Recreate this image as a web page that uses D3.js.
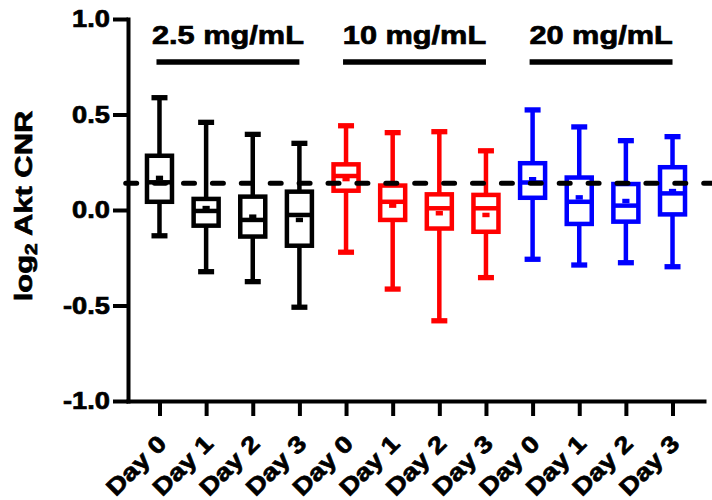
<!DOCTYPE html>
<html>
<head>
<meta charset="utf-8">
<script src="https://cdn.jsdelivr.net/npm/d3@7"></script>
<style>
  body { margin: 0; background: #fff; }
  svg text { font-family: "Liberation Sans", Arial, sans-serif; font-weight: bold; fill: #000; stroke: #000; stroke-width: 0.7px; }
</style>
</head>
<body>
<svg id="chart" width="712" height="500"></svg>
<script>
//*************** data ******************//

var categories = ["A0", "A1", "A2", "A3", "B0", "B1", "B2", "B3", "C0", "C1", "C2", "C3"];
var dayLabels = ["Day 0", "Day 1", "Day 2", "Day 3", "Day 0", "Day 1", "Day 2", "Day 3", "Day 0", "Day 1", "Day 2", "Day 3"];
var groupOf = [0, 0, 0, 0, 1, 1, 1, 1, 2, 2, 2, 2];

var groupNames = ["2.5 mg/mL", "10 mg/mL", "20 mg/mL"];
var groupColors = ["#000000", "#ff0000", "#0000ff"];

// box statistics, one value per category
var whiskerMax = [0.588, 0.459, 0.396, 0.349, 0.441, 0.405, 0.410, 0.310, 0.524, 0.435, 0.363, 0.384];
var q3 = [0.284, 0.058, 0.070, 0.096, 0.239, 0.128, 0.082, 0.079, 0.245, 0.170, 0.136, 0.224];
var medians = [0.145, -0.005, -0.052, -0.026, 0.178, 0.043, 0.009, 0.009, 0.144, 0.043, 0.023, 0.087];
var means = [0.168, 0.010, -0.035, -0.052, 0.162, 0.023, -0.017, -0.026, 0.161, 0.066, 0.047, 0.099];
var q1 = [0.043, -0.082, -0.139, -0.187, 0.101, -0.052, -0.097, -0.114, 0.064, -0.073, -0.061, -0.023];
var whiskerMin = [-0.135, -0.323, -0.375, -0.509, -0.221, -0.414, -0.580, -0.354, -0.258, -0.288, -0.276, -0.297];

var refLine = 0.14;
var yTicks = [-1.0, -0.5, 0.0, 0.5, 1.0];
var yLabel = "Akt CNR";

//*************** layout ******************//

var svg = d3.select("svg#chart");

var xScale = d3.scalePoint().domain(categories).range([128, 704]).padding(0.675);
var yScale = d3.scaleLinear().domain([-1, 1]).range([401, 19]);

var boxW = 25, capW = 16, lw = 4.5;

//--------------- boxes
var boxes = svg.append("g").attr("class", "boxes")
  .selectAll("g")
  .data(categories)
  .enter().append("g")
  .attr("transform", function(d) { return "translate(" + xScale(d) + ",0)"; });

function col(i) { return groupColors[groupOf[i]]; }

// whisker line
boxes.append("line")
  .attr("y1", function(d, i) { return yScale(whiskerMax[i]); })
  .attr("y2", function(d, i) { return yScale(whiskerMin[i]); })
  .attr("stroke", function(d, i) { return col(i); })
  .attr("stroke-width", lw);

// caps
[whiskerMax, whiskerMin].forEach(function(arr) {
  boxes.append("line")
    .attr("x1", -capW / 2).attr("x2", capW / 2)
    .attr("y1", function(d, i) { return yScale(arr[i]); })
    .attr("y2", function(d, i) { return yScale(arr[i]); })
    .attr("stroke", function(d, i) { return col(i); })
    .attr("stroke-width", lw + 0.8);
});

// box
boxes.append("rect")
  .attr("x", -boxW / 2)
  .attr("width", boxW)
  .attr("y", function(d, i) { return yScale(q3[i]); })
  .attr("height", function(d, i) { return yScale(q1[i]) - yScale(q3[i]); })
  .attr("fill", "#fff")
  .attr("stroke", function(d, i) { return col(i); })
  .attr("stroke-width", lw);

// median
boxes.append("line")
  .attr("x1", -boxW / 2).attr("x2", boxW / 2)
  .attr("y1", function(d, i) { return yScale(medians[i]); })
  .attr("y2", function(d, i) { return yScale(medians[i]); })
  .attr("stroke", function(d, i) { return col(i); })
  .attr("stroke-width", lw);

// mean marker
boxes.append("line")
  .attr("x1", -3.6).attr("x2", 3.6)
  .attr("y1", function(d, i) { return yScale(means[i]); })
  .attr("y2", function(d, i) { return yScale(means[i]); })
  .attr("stroke", function(d, i) { return col(i); })
  .attr("stroke-width", lw);

//--------------- dashed reference line
svg.append("line")
  .attr("x1", xScale.range()[0] - 2.3)
  .attr("x2", 712)
  .attr("y1", yScale(refLine))
  .attr("y2", yScale(refLine))
  .attr("stroke", "#000")
  .attr("stroke-width", 5)
  .attr("stroke-linecap", "round")
  .attr("stroke-dasharray", "11,17.9");

//--------------- axes
var yAxis = svg.append("g")
  .attr("transform", "translate(" + xScale.range()[0] + ",0)")
  .call(d3.axisLeft(yScale).tickValues(yTicks).tickSize(15).tickSizeOuter(0).tickPadding(3)
    .tickFormat(function(d) { return d.toFixed(1); }));

var xAxis = svg.append("g")
  .attr("transform", "translate(0," + yScale.range()[0] + ")")
  .call(d3.axisBottom(xScale).tickSize(15).tickSizeOuter(0)
    .tickFormat(function(d, i) { return dayLabels[i]; }));

[yAxis, xAxis].forEach(function(ax) {
  ax.select(".domain").attr("stroke", "#000").attr("stroke-width", 4).attr("stroke-linecap", "square");
  ax.selectAll(".tick line").attr("stroke", "#000").attr("stroke-width", 4);
});

yAxis.selectAll(".tick text")
  .attr("font-size", 23.5)
  .attr("fill", "#000")
  .attr("x", 0)
  .attr("transform", "translate(-18,0) scale(1.16,1)");

xAxis.selectAll(".tick text")
  .attr("font-size", 23.5)
  .attr("fill", "#000")
  .attr("x", 0).attr("y", 0).attr("dy", 0)
  .attr("text-anchor", "end")
  .attr("transform", "translate(8,44) rotate(-45) scale(1.18,1)");

//--------------- y label
var yl = svg.append("text")
  .attr("text-anchor", "middle")
  .attr("font-size", 24.5)
  .attr("transform", "translate(32,206) rotate(-90) scale(1.26,1)");
yl.append("tspan").text("log");
yl.append("tspan").attr("font-size", 16.5).attr("dy", 5).text("2");
yl.append("tspan").attr("dy", -5).text(" " + yLabel);

//--------------- group labels and bars
var groups = svg.append("g").selectAll("g")
  .data(groupNames)
  .enter().append("g");

groups.append("line")
  .attr("x1", function(d, g) { return xScale(categories[g * 4]) - 3; })
  .attr("x2", function(d, g) { return xScale(categories[g * 4 + 3]); })
  .attr("y1", 62).attr("y2", 62)
  .attr("stroke", "#000")
  .attr("stroke-width", 5.5);

groups.append("text")
  .attr("text-anchor", "middle")
  .attr("font-size", 25.6)
  .attr("transform", function(d, g) {
    var cx = (xScale(categories[g * 4]) + xScale(categories[g * 4 + 3])) / 2 - 1.5;
    return "translate(" + cx + ",44) scale(1.2,1)";
  })
  .text(function(d) { return d; });
</script>
</body>
</html>
